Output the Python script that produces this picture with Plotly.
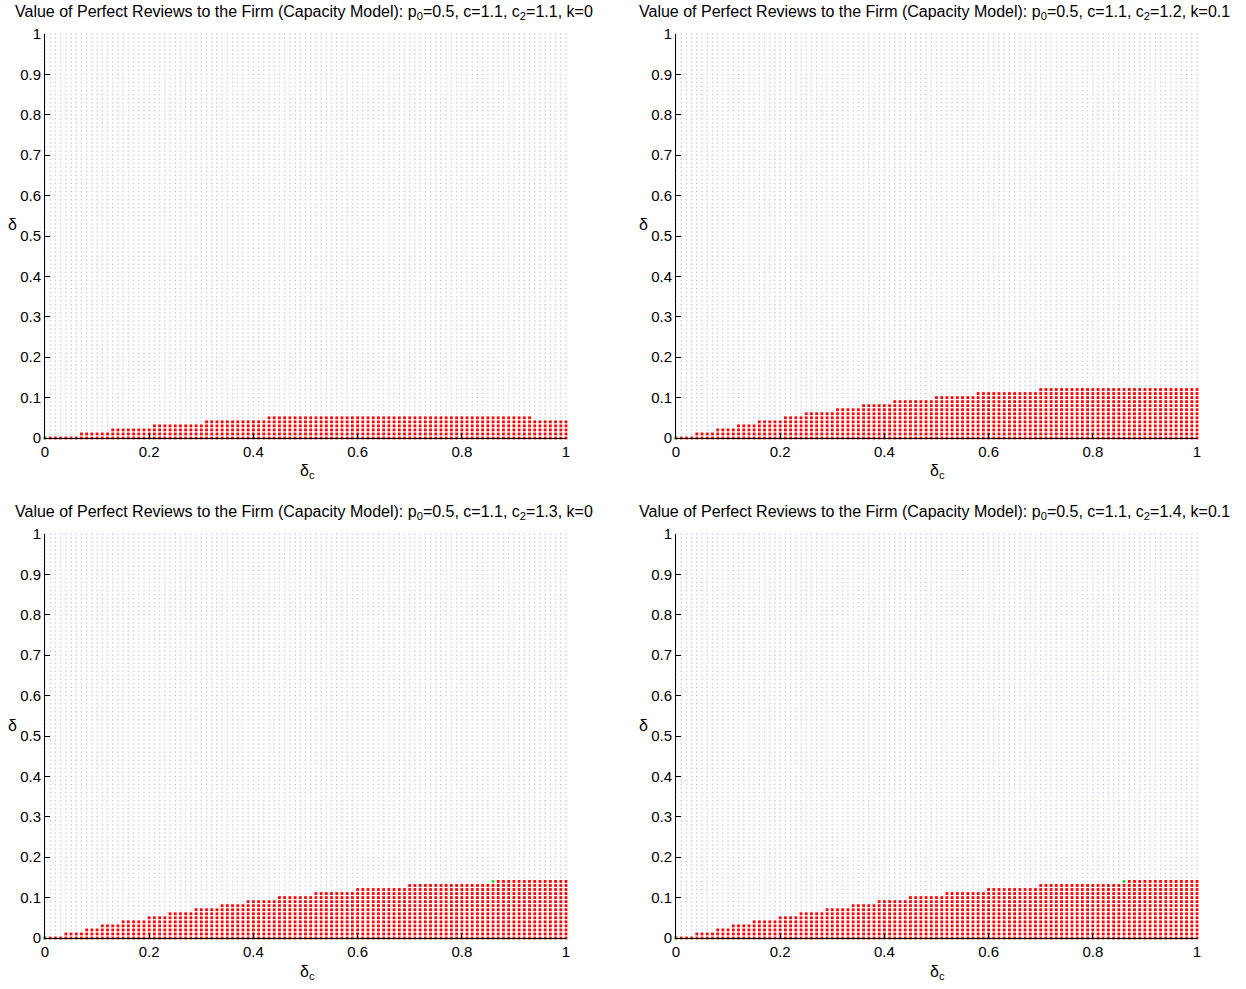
import numpy as np
import plotly.graph_objects as go

# ---- data ----
grid_step = 0.01
titles = [
    "Value of Perfect Reviews to the Firm (Capacity Model): p<sub>0</sub>=0.5, c=1.1, c<sub>2</sub>=1.1, k=0",
    "Value of Perfect Reviews to the Firm (Capacity Model): p<sub>0</sub>=0.5, c=1.1, c<sub>2</sub>=1.2, k=0.1",
    "Value of Perfect Reviews to the Firm (Capacity Model): p<sub>0</sub>=0.5, c=1.1, c<sub>2</sub>=1.3, k=0",
    "Value of Perfect Reviews to the Firm (Capacity Model): p<sub>0</sub>=0.5, c=1.1, c<sub>2</sub>=1.4, k=0.1",
]
# step boundary of the "positive value" region: from x=start on, delta up to height
step_starts_1 = [0.00, 0.07, 0.13, 0.21, 0.31, 0.43, 0.94]
step_heights_1 = [0.00, 0.01, 0.02, 0.03, 0.04, 0.05, 0.04]
step_starts_2 = [0.00, 0.04, 0.08, 0.12, 0.16, 0.21, 0.25, 0.31, 0.36, 0.42, 0.50, 0.58, 0.70]
step_heights_2 = [0.00, 0.01, 0.02, 0.03, 0.04, 0.05, 0.06, 0.07, 0.08, 0.09, 0.10, 0.11, 0.12]
step_starts_3 = [0.00, 0.04, 0.08, 0.11, 0.15, 0.20, 0.24, 0.29, 0.34, 0.39, 0.45, 0.52, 0.60, 0.70, 0.87]
step_heights_3 = [0.00, 0.01, 0.02, 0.03, 0.04, 0.05, 0.06, 0.07, 0.08, 0.09, 0.10, 0.11, 0.12, 0.13, 0.14]
step_starts_4 = [0.00, 0.04, 0.08, 0.11, 0.15, 0.20, 0.24, 0.29, 0.34, 0.39, 0.45, 0.52, 0.60, 0.70, 0.87]
step_heights_4 = [0.00, 0.01, 0.02, 0.03, 0.04, 0.05, 0.06, 0.07, 0.08, 0.09, 0.10, 0.11, 0.12, 0.13, 0.14]
# indifference points (green)
green_x_1 = [0.0]; green_y_1 = [0.0]
green_x_2 = [0.0]; green_y_2 = [0.0]
green_x_3 = [0.0, 0.86]; green_y_3 = [0.0, 0.14]
green_x_4 = [0.0, 0.86]; green_y_4 = [0.0, 0.14]

x_ticks = [0, 0.2, 0.4, 0.6, 0.8, 1]
x_tick_text = ["0", "0.2", "0.4", "0.6", "0.8", "1"]
y_ticks = [0, 0.1, 0.2, 0.3, 0.4, 0.5, 0.6, 0.7, 0.8, 0.9, 1]
y_tick_text = ["0", "0.1", "0.2", "0.3", "0.4", "0.5", "0.6", "0.7", "0.8", "0.9", "1"]

panels = [
    (step_starts_1, step_heights_1, green_x_1, green_y_1),
    (step_starts_2, step_heights_2, green_x_2, green_y_2),
    (step_starts_3, step_heights_3, green_x_3, green_y_3),
    (step_starts_4, step_heights_4, green_x_4, green_y_4),
]

# ---- layout geometry (pixels) ----
W, H = 1246, 989
xdoms_px = [(45, 566), (676, 1197), (45, 566), (676, 1197)]
ydoms_px = [(34, 438), (34, 438), (534, 938), (534, 938)]

n = int(round(1 / grid_step)) + 1
idx = np.arange(n)
GX, GY = np.meshgrid(idx, idx)
GX = GX.ravel(); GY = GY.ravel()

fig = go.Figure()
layout = dict(width=W, height=H, autosize=False, margin=dict(l=0, r=0, t=0, b=0, pad=0),
              template="none",
              paper_bgcolor="white", plot_bgcolor="white", showlegend=False,
              font=dict(family="Liberation Sans, Arial, sans-serif", size=16, color="black"))
annotations = []

for k, (starts, heights, gx, gy) in enumerate(panels):
    s = np.round(np.array(starts) / grid_step).astype(int)
    h = np.round(np.array(heights) / grid_step).astype(int)
    seg = np.searchsorted(s, GX, side="right") - 1
    hx = h[seg]
    red = GY <= hx
    xa = "x" if k == 0 else f"x{k+1}"
    ya = "y" if k == 0 else f"y{k+1}"
    fig.add_trace(go.Scatter(x=GX[~red] * grid_step, y=GY[~red] * grid_step, mode="markers",
                             marker=dict(size=1.5, color="rgb(206,206,244)", symbol="square", line=dict(width=0)),
                             xaxis=xa, yaxis=ya, cliponaxis=False, hoverinfo="skip"))
    fig.add_trace(go.Scatter(x=GX[red] * grid_step, y=GY[red] * grid_step, mode="markers",
                             marker=dict(size=2.8, color="rgb(255,0,0)", symbol="square", line=dict(width=0)),
                             xaxis=xa, yaxis=ya, cliponaxis=False, hoverinfo="skip"))
    fig.add_trace(go.Scatter(x=gx, y=gy, mode="markers",
                             marker=dict(size=2.6, color="rgb(0,220,0)", symbol="square", line=dict(width=0)),
                             xaxis=xa, yaxis=ya, cliponaxis=False, hoverinfo="skip"))

    x0, x1 = xdoms_px[k]
    y0, y1 = ydoms_px[k]
    axkey = "xaxis" if k == 0 else f"xaxis{k+1}"
    aykey = "yaxis" if k == 0 else f"yaxis{k+1}"
    common = dict(range=[0, 1], ticks="inside", ticklen=5, tickwidth=1,
                  tickcolor="black", showline=True, linecolor="black", linewidth=1,
                  showgrid=False, zeroline=False, mirror=False, automargin=False,
                  tickfont=dict(size=15))
    layout[axkey] = dict(domain=[x0 / W, x1 / W], anchor=ya,
                         tickvals=x_ticks, ticktext=x_tick_text, **common)
    layout[aykey] = dict(domain=[1 - y1 / H, 1 - y0 / H], anchor=xa,
                         tickvals=y_ticks, ticktext=y_tick_text, **common)
    cx = (x0 + x1) / 2
    annotations.append(dict(text=titles[k], x=(cx - 2) / W, y=1 - (y0 - 22) / H, xref="paper", yref="paper",
                            xanchor="center", yanchor="middle", showarrow=False, font=dict(size=16)))
    annotations.append(dict(text="δ", x=(x0 - 33) / W, y=1 - (y0 + 191) / H, xref="paper", yref="paper",
                            xanchor="center", yanchor="middle", showarrow=False, font=dict(size=16)))
    annotations.append(dict(text="δ<sub>c</sub>", x=(x0 + 262) / W, y=1 - (y1 + 34) / H, xref="paper", yref="paper",
                            xanchor="center", yanchor="middle", showarrow=False, font=dict(size=16)))

layout["annotations"] = annotations
fig.update_layout(**layout)
fig.write_html("out.html")
